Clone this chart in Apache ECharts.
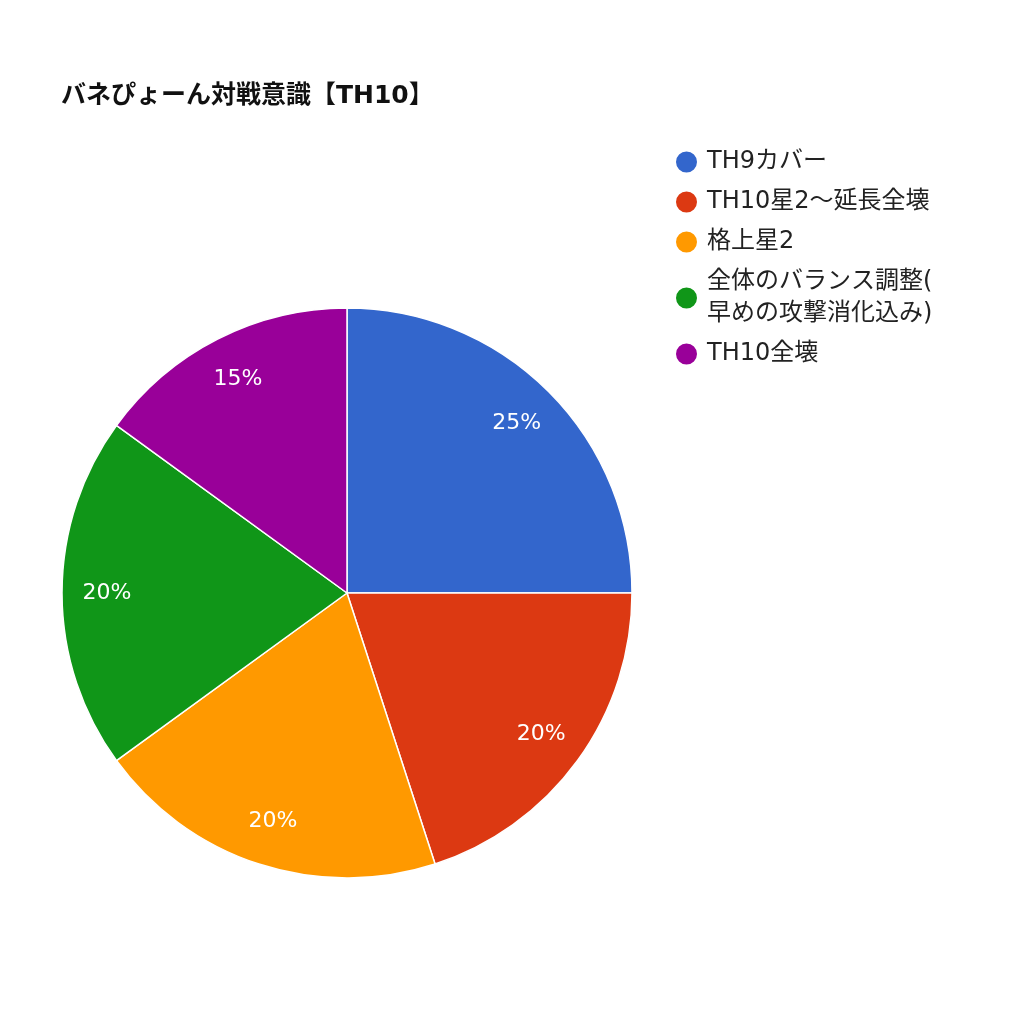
<!DOCTYPE html>
<html><head><meta charset="utf-8">
<script src="https://cdn.jsdelivr.net/npm/echarts@6/dist/echarts.min.js"></script>
<style>html,body{margin:0;padding:0;background:#fff}#c{width:1024px;height:1024px}</style>
</head><body><div id="c"></div>
<script>
const categories = ['TH9カバー', 'TH10星2〜延長全壊', '格上星2', '全体のバランス調整(早めの攻撃消化込み)', 'TH10全壊'];
const values = [25, 20, 20, 20, 15];
const colors = ['#3366cc', '#dc3912', '#ff9900', '#109618', '#990099'];
const titleText = 'バネぴょーん対戦意識【TH10】';
const FONT = "'DejaVu Sans', 'Noto Sans CJK JP', sans-serif";

const data = categories.map((n, i) => ({ name: n, value: values[i], itemStyle: { color: colors[i] } }));
const chart = echarts.init(document.getElementById('c'));
chart.setOption({
  backgroundColor: '#fff',
  animation: false,
  title: {
    text: titleText, left: 56, top: 79,
    textStyle: { fontFamily: FONT, fontSize: 25, fontWeight: 'bold', color: '#111' }
  },
  legend: {
    orient: 'vertical', left: 669, top: 141,
    icon: 'circle', itemWidth: 23, itemHeight: 23, itemGap: 8,
    data: categories,
    formatter: function (name) { return name.replace('調整(', '調整(\n'); },
    textStyle: { fontFamily: FONT, fontSize: 24, color: '#222', lineHeight: 32, padding: [0, 0, 0, 4] }
  },
  series: [{
    type: 'pie', center: [347, 593], radius: [0, 285], startAngle: 90, clockwise: true,
    data: data, label: { show: false }, labelLine: { show: false },
    itemStyle: { borderColor: '#fff', borderWidth: 1.5 }, emphasis: { disabled: true }
  }, {
    type: 'pie', center: [347, 593], radius: [190, 284], startAngle: 90, clockwise: true,
    silent: true, legendHoverLink: false,
    data: categories.map((n, i) => ({ name: n, value: values[i] })),
    itemStyle: { color: 'rgba(0,0,0,0)', borderWidth: 0 },
    label: { show: true, position: 'inside', formatter: '{d}%', color: '#fff', fontFamily: FONT, fontSize: 22 },
    labelLine: { show: false }, emphasis: { disabled: true }
  }]
});
</script></body></html>
